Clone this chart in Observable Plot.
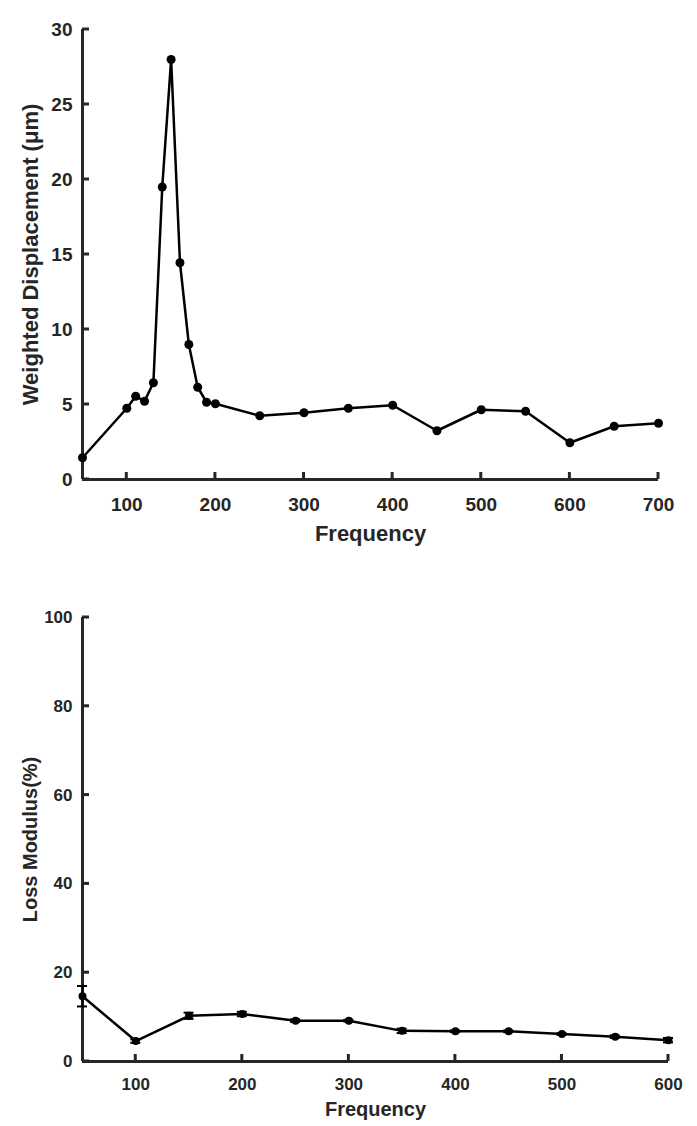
<!DOCTYPE html>
<html>
<head>
<meta charset="utf-8">
<script src="https://cdn.jsdelivr.net/npm/d3@7"></script>
<script src="https://cdn.jsdelivr.net/npm/@observablehq/plot@0.6"></script>
<style>
  html, body { margin: 0; padding: 0; background: #fff; }
  #chart svg { display: block; }
  #topChart [aria-label="x-axis label"] text, #topChart [aria-label="y-axis label"] text { font-size: 22px; }
  #bottomChart [aria-label="x-axis label"] text, #bottomChart [aria-label="y-axis label"] text { font-size: 20px; }
</style>
</head>
<body>
<div id="chart"><div id="topChart"></div><div id="bottomChart"></div></div>
<script>
// Top chart: weighted displacement vs frequency
const freqTop = [50, 100, 110, 120, 130, 140, 150, 160, 170, 180, 190, 200, 250, 300, 350, 400, 450, 500, 550, 600, 650, 700];
const displacement = [1.45, 4.75, 5.55, 5.22, 6.45, 19.5, 28.0, 14.45, 9.0, 6.15, 5.15, 5.05, 4.25, 4.45, 4.75, 4.95, 3.25, 4.65, 4.55, 2.45, 3.55, 3.75];
const topXTicks = [100, 200, 300, 400, 500, 600, 700];
const topYTicks = [0, 5, 10, 15, 20, 25, 30];

// Bottom chart: loss modulus vs frequency
const freqBottom = [50, 100, 150, 200, 250, 300, 350, 400, 450, 500, 550, 600];
const lossModulus = [14.7, 4.6, 10.3, 10.7, 9.2, 9.2, 6.9, 6.8, 6.8, 6.2, 5.6, 4.8];
const lossError = [2.3, 0.4, 0.7, 0.5, 0.3, 0.2, 0.5, 0.2, 0.2, 0.2, 0.3, 0.5];
const bottomXTicks = [100, 200, 300, 400, 500, 600];
const bottomYTicks = [0, 20, 40, 60, 80, 100];

const ink = "#262626";
const topData = freqTop.map((f, i) => ({f, v: displacement[i]}));
const bottomData = freqBottom.map((f, i) => ({f, v: lossModulus[i], lo: lossModulus[i] - lossError[i], hi: lossModulus[i] + lossError[i]}));

const baseStyle = {fontFamily: "Liberation Sans, Arial, sans-serif", fontWeight: "bold", color: ink, background: "#fff"};

// axis lines and tick labels
function axisMarks(xTicks, yTicks, x0, y0, xLabel, yLabel, xPad, xLabelOffset) {
  return [
    Plot.ruleX([x0], {stroke: ink, strokeWidth: 3}),
    Plot.ruleY([y0], {stroke: ink, strokeWidth: 3}),
    Plot.axisX(xTicks, {tickSize: 0, tickPadding: xPad, label: xLabel, labelAnchor: "center", labelOffset: xLabelOffset, labelArrow: "none"}),
    Plot.axisY(yTicks, {tickSize: 0, tickPadding: 10, label: yLabel, labelAnchor: "center", labelOffset: 60, labelArrow: "none"})
  ];
}

// inward tick marks positioned through the plot's own scale descriptors
function addInwardTicks(svg, xTicks, yTicks, x0, y0) {
  const dx = svg.scale("x"), dy = svg.scale("y");
  const sx = d3.scaleLinear(dx.domain, dx.range);
  const sy = d3.scaleLinear(dy.domain, dy.range);
  const px0 = sx(x0), py0 = sy(y0);
  const ns = "http://www.w3.org/2000/svg";
  const g = document.createElementNS(ns, "g");
  g.setAttribute("aria-label", "inward ticks");
  const addLine = (x1, y1, x2, y2) => {
    const l = document.createElementNS(ns, "line");
    l.setAttribute("x1", x1); l.setAttribute("y1", y1);
    l.setAttribute("x2", x2); l.setAttribute("y2", y2);
    l.setAttribute("stroke", ink); l.setAttribute("stroke-width", "3");
    g.appendChild(l);
  };
  xTicks.forEach(t => addLine(sx(t), py0, sx(t), py0 - 7));
  yTicks.forEach(t => addLine(px0, sy(t), px0 + 7, sy(t)));
  svg.appendChild(g);
}

const plotTop = Plot.plot({
  width: 697, height: 555,
  marginLeft: 82, marginRight: 39, marginTop: 29, marginBottom: 76,
  style: {...baseStyle, fontSize: "19px"},
  x: {domain: [50, 700]},
  y: {domain: [0, 30]},
  marks: [
    ...axisMarks(topXTicks, topYTicks, 50, 0, "Frequency", "Weighted Displacement (μm)", 18, 61),
    Plot.line(topData, {x: "f", y: "v", stroke: "black", strokeWidth: 2.5}),
    Plot.dot(topData, {x: "f", y: "v", fill: "black", r: 4.5})
  ]
});

const plotBottom = Plot.plot({
  width: 697, height: 571,
  marginLeft: 82, marginRight: 29, marginTop: 62, marginBottom: 65,
  style: {...baseStyle, fontSize: "17px"},
  x: {domain: [50, 600]},
  y: {domain: [0, 100]},
  marks: [
    ...axisMarks(bottomXTicks, bottomYTicks, 50, 0, "Frequency", "Loss Modulus(%)", 16, 54),
    Plot.ruleX(bottomData, {x: "f", y1: "lo", y2: "hi", stroke: "black", strokeWidth: 2}),
    Plot.ruleY(bottomData, {y: "lo", x1: "f", x2: "f", insetLeft: -5, insetRight: -5, stroke: "black", strokeWidth: 2}),
    Plot.ruleY(bottomData, {y: "hi", x1: "f", x2: "f", insetLeft: -5, insetRight: -5, stroke: "black", strokeWidth: 2}),
    Plot.line(bottomData, {x: "f", y: "v", stroke: "black", strokeWidth: 2.5}),
    Plot.dot(bottomData, {x: "f", y: "v", fill: "black", r: 4})
  ]
});

addInwardTicks(plotTop, topXTicks, topYTicks, 50, 0);
addInwardTicks(plotBottom, bottomXTicks, bottomYTicks, 50, 0);

document.getElementById("topChart").appendChild(plotTop);
document.getElementById("bottomChart").appendChild(plotBottom);
</script>
</body>
</html>
